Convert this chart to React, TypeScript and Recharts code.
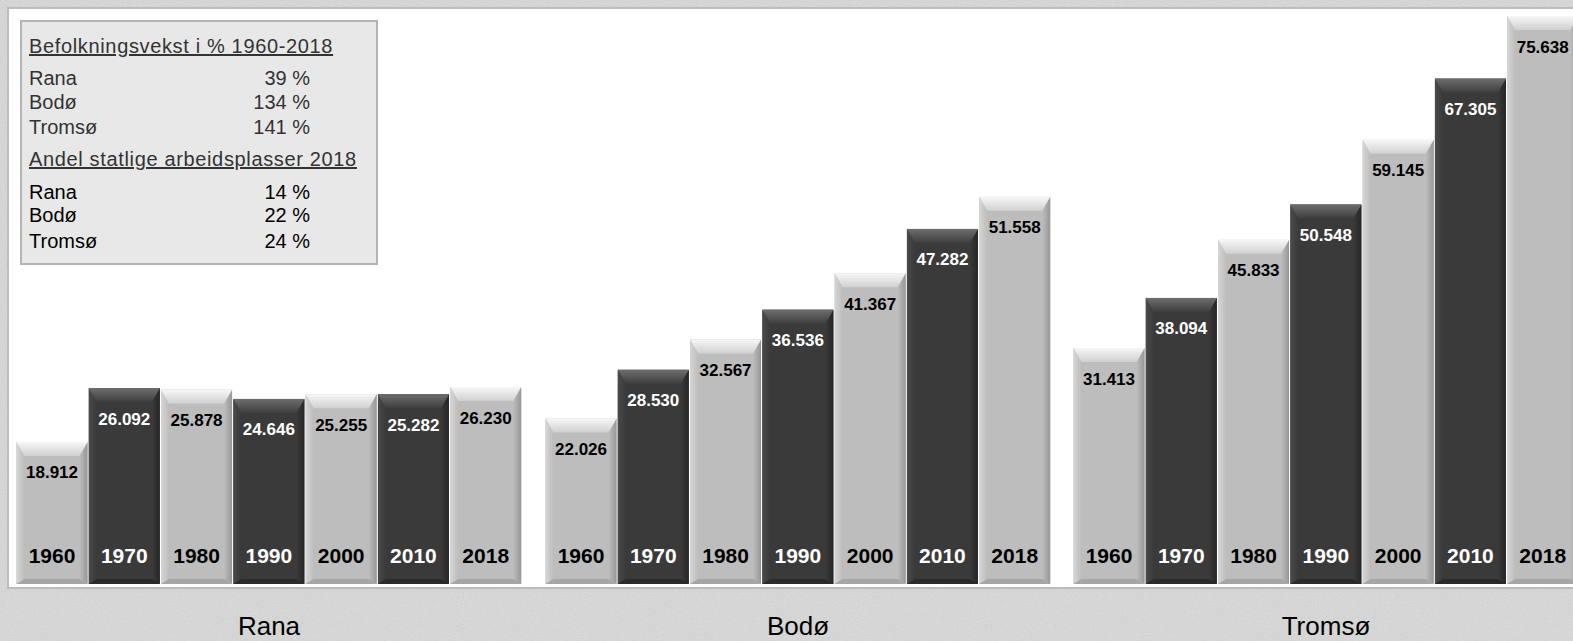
import { BarChart, Bar, XAxis, YAxis, LabelList } from 'recharts'

const YEARS = ['1960', '1970', '1980', '1990', '2000', '2010', '2018']
const RANA = [18912, 26092, 25878, 24646, 25255, 25282, 26230]
const BODO = [22026, 28530, 32567, 36536, 41367, 47282, 51558]
const TROMSO = [31413, 38094, 45833, 50548, 59145, 67305, 75638]

const PLACES = ['Rana', 'Bodø', 'Tromsø']
const SERIES = [RANA, BODO, TROMSO]

const GROWTH_TITLE = 'Befolkningsvekst i % 1960-2018'
const GROWTH = ['39 %', '134 %', '141 %']
const STATE_TITLE = 'Andel statlige arbeidsplasser 2018'
const STATE_JOBS = ['14 %', '22 %', '24 %']

const FONT = 'Arial, "Liberation Sans", sans-serif'
const Y_MAX = 75638
const GROUP_LEFT = [16, 545, 1073]
const GROUP_W = 506
const CHART_TOP = 16
const CHART_H = 568

const fmt = (v: number) => v.toLocaleString('en-US').replace(/,/g, '.')

// shared gradients for the bevelled bars
function BarGradients() {
  const stops = (a: string, b: string) => [
    <stop key="a" offset="0" stopColor={a} />,
    <stop key="b" offset="1" stopColor={b} />,
  ]
  return (
    <svg width={0} height={0} style={{ position: 'absolute' }}>
      <defs>
        <linearGradient id="lt-top" x1="0" y1="0" x2="0" y2="1">{stops('#f7f7f7', '#d0d0d0')}</linearGradient>
        <linearGradient id="dk-top" x1="0" y1="0" x2="0" y2="1">{stops('#6e6e6e', '#3e3e3e')}</linearGradient>
        <linearGradient id="lt-left" x1="0" y1="0" x2="1" y2="0">{stops('#d6d6d6', '#bdbdbd')}</linearGradient>
        <linearGradient id="dk-left" x1="0" y1="0" x2="1" y2="0">{stops('#4a4a4a', '#3a3a3a')}</linearGradient>
        <linearGradient id="lt-right" x1="0" y1="0" x2="1" y2="0">{stops('#bdbdbd', '#979797')}</linearGradient>
        <linearGradient id="dk-right" x1="0" y1="0" x2="1" y2="0">{stops('#3a3a3a', '#262626')}</linearGradient>
      </defs>
    </svg>
  )
}

// bevelled bar: face + side strips + lit top edge
function BevelBar(props: any) {
  const { x, y, width: w, height: h, payload } = props
  if (!h || h <= 0) return null
  const k = payload.dark ? 'dk' : 'lt'
  const t = 14
  const s = 8
  const bt = 5
  return (
    <g>
      <rect x={x} y={y} width={w} height={h} fill={payload.dark ? '#3a3a3a' : '#bdbdbd'} />
      <polygon points={`${x},${y} ${x + s},${y + t} ${x + s},${y + h - bt} ${x},${y + h}`} fill={`url(#${k}-left)`} />
      <polygon points={`${x + w},${y} ${x + w - s},${y + t} ${x + w - s},${y + h - bt} ${x + w},${y + h}`} fill={`url(#${k}-right)`} />
      <polygon points={`${x},${y} ${x + w},${y} ${x + w - s},${y + t} ${x + s},${y + t}`} fill={`url(#${k}-top)`} />
      <polygon
        points={`${x},${y + h} ${x + w},${y + h} ${x + w - s},${y + h - bt} ${x + s},${y + h - bt}`}
        fill={payload.dark ? '#2a2a2a' : '#a6a6a6'}
      />
    </g>
  )
}

function ValueLabel(props: any) {
  const { x, y, width, value, index } = props
  return (
    <text
      x={x + width / 2}
      y={y + 31}
      textAnchor="middle"
      dominantBaseline="central"
      fontFamily={FONT}
      fontWeight="bold"
      fontSize={17}
      fill={index % 2 === 1 ? '#ffffff' : '#000000'}
    >
      {fmt(value)}
    </text>
  )
}

function YearLabel(props: any) {
  const { x, y, width, height, value, index } = props
  return (
    <text
      x={x + width / 2}
      y={y + height - 29}
      textAnchor="middle"
      dominantBaseline="central"
      fontFamily={FONT}
      fontWeight="bold"
      fontSize={21}
      fill={index % 2 === 1 ? '#ffffff' : '#000000'}
    >
      {value}
    </text>
  )
}

function PlaceChart({ values }: { values: number[] }) {
  const data = YEARS.map((year, i) => ({ year, value: values[i], dark: i % 2 === 1 }))
  return (
    <BarChart
      width={GROUP_W}
      height={CHART_H}
      data={data}
      margin={{ top: 0, right: 0, bottom: 0, left: 0 }}
      barCategoryGap={0.5}
    >
      <XAxis dataKey="year" hide />
      <YAxis hide domain={[0, Y_MAX]} />
      <Bar dataKey="value" shape={<BevelBar />} isAnimationActive={false}>
        <LabelList dataKey="value" content={<ValueLabel />} />
        <LabelList dataKey="year" content={<YearLabel />} />
      </Bar>
    </BarChart>
  )
}

const rowStyle = (top: number, color: string): React.CSSProperties => ({
  position: 'absolute',
  left: 7,
  top,
  width: 281,
  fontSize: 20,
  lineHeight: '22px',
  color,
  display: 'flex',
  justifyContent: 'space-between',
})

const titleStyle = (top: number): React.CSSProperties => ({
  position: 'absolute',
  left: 7,
  top,
  fontSize: 20,
  lineHeight: '22px',
  color: '#333',
  textDecoration: 'underline',
  letterSpacing: 0.65,
  whiteSpace: 'nowrap',
})

export default function App() {
  return (
    <div
      style={{
        position: 'absolute',
        left: 0,
        top: 0,
        width: 1573,
        height: 641,
        overflow: 'hidden',
        background: '#d9d9d9',
        fontFamily: FONT,
      }}
    >
      {/* speckled backdrop */}
      <svg width={1573} height={641} style={{ position: 'absolute', left: 0, top: 0 }}>
        <filter id="speckle">
          <feTurbulence type="fractalNoise" baseFrequency="0.9" numOctaves={2} seed={3} />
          <feColorMatrix type="saturate" values="0" />
          <feComponentTransfer>
            <feFuncA type="linear" slope={0.25} />
          </feComponentTransfer>
        </filter>
        <rect width={1573} height={641} filter="url(#speckle)" />
      </svg>
      <BarGradients />
      <div
        style={{
          position: 'absolute',
          left: 7,
          top: 7,
          width: 1580,
          height: 578,
          background: '#ffffff',
          border: '2px solid #bdbdbd',
        }}
      />
      {SERIES.map((values, g) => (
        <div key={PLACES[g]} style={{ position: 'absolute', left: GROUP_LEFT[g], top: CHART_TOP }}>
          <PlaceChart values={values} />
        </div>
      ))}
      {PLACES.map((name, g) => (
        <div
          key={name}
          style={{
            position: 'absolute',
            left: GROUP_LEFT[g],
            width: GROUP_W,
            top: 611,
            textAlign: 'center',
            fontSize: 26,
            lineHeight: '30px',
            color: '#000',
          }}
        >
          {name}
        </div>
      ))}
      <div
        style={{
          position: 'absolute',
          left: 20,
          top: 20,
          width: 354,
          height: 241,
          background: '#e8e8e8',
          border: '2px solid #b4b4b4',
        }}
      >
        <div style={titleStyle(13)}>{GROWTH_TITLE}</div>
        {PLACES.map((name, i) => (
          <div key={'g' + name} style={rowStyle(45 + [0, 24, 49][i], '#333')}>
            <span>{name}</span>
            <span>{GROWTH[i]}</span>
          </div>
        ))}
        <div style={titleStyle(126)}>{STATE_TITLE}</div>
        {PLACES.map((name, i) => (
          <div key={'s' + name} style={rowStyle(159 + [0, 23, 49][i], '#000')}>
            <span>{name}</span>
            <span>{STATE_JOBS[i]}</span>
          </div>
        ))}
      </div>
    </div>
  )
}
